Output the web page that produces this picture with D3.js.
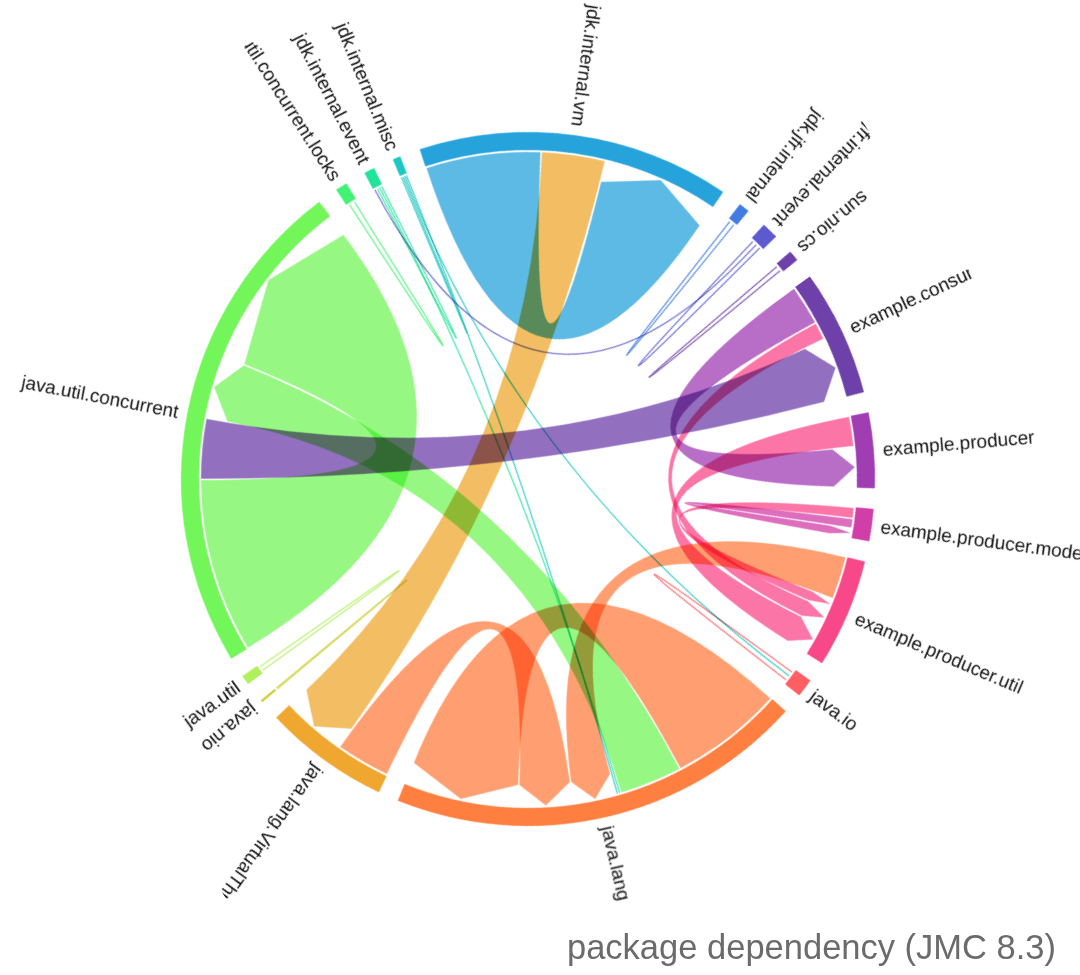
<!DOCTYPE html>
<html>
<head>
<meta charset="utf-8">
<script src="https://cdn.jsdelivr.net/npm/d3@7"></script>
<style>
  html, body { margin: 0; padding: 0; background: #ffffff; }
  svg { display: block; }
</style>
</head>
<body>
<svg id="chart" width="1080" height="975"></svg>
<script>
// ---- data ----
const names = [
  "example.consumer",
  "example.producer",
  "example.producer.model",
  "example.producer.util",
  "java.io",
  "java.lang",
  "java.lang.VirtualThread",
  "java.nio",
  "java.util",
  "java.util.concurrent",
  "java.util.concurrent.locks",
  "jdk.internal.event",
  "jdk.internal.misc",
  "jdk.internal.vm",
  "jdk.jfr.internal",
  "jdk.jfr.internal.event",
  "sun.nio.cs"
];

const linkSource = [
  "example.consumer", "example.consumer",
  "example.producer",
  "example.producer.model", "example.producer.model",
  "example.producer.util",
  "java.io", "java.io",
  "java.lang", "java.lang", "java.lang", "java.lang",
  "java.lang.VirtualThread",
  "java.nio",
  "java.util",
  "java.util.concurrent", "java.util.concurrent",
  "java.util.concurrent.locks",
  "jdk.internal.event", "jdk.internal.event",
  "jdk.internal.misc",
  "jdk.internal.vm", "jdk.internal.vm",
  "jdk.jfr.internal", "jdk.jfr.internal.event", "sun.nio.cs"
];
const linkTarget = [
  "example.producer", "example.producer.util",
  "example.producer.util",
  "example.producer.util", "example.producer.model",
  "java.lang",
  "java.io", "jdk.internal.misc",
  "java.lang", "java.util.concurrent", "jdk.internal.event", "jdk.internal.misc",
  "java.lang",
  "java.nio",
  "java.util",
  "java.util.concurrent", "example.consumer",
  "java.util.concurrent.locks",
  "jdk.jfr.internal.event", "jdk.internal.event",
  "jdk.internal.misc",
  "jdk.internal.vm", "java.lang.VirtualThread",
  "jdk.jfr.internal", "jdk.jfr.internal.event", "sun.nio.cs"
];
const linkValue = [
  7.2, 3.2,
  5.4,
  2.0, 1.7,
  7.7,
  1.4, 0.3,
  20.3, 11.2, 0.4, 0.4,
  9.7,
  0.2,
  0.8,
  31.1, 10.8,
  1.0,
  0.5, 0.45,
  0.3,
  20.5, 11.4,
  0.9, 1.15, 0.9
];

const titleText = "package dependency (JMC 8.3)";

// ---- layout ----
const cx = 528, cy = 479;
const innerRadius = 329, outerRadius = 347;
const rotationDeg = 54.3;
const thinValue = 1.6;

const n = names.length;
const index = new Map(names.map((d, i) => [d, i]));
const matrix = Array.from({length: n}, () => new Array(n).fill(0));
linkSource.forEach((s, i) => {
  matrix[index.get(s)][index.get(linkTarget[i])] += linkValue[i];
});

const chord = d3.chordDirected()
  .padAngle(3.42 * Math.PI / 180)
  .sortSubgroups(d3.descending)
  .sortChords(d3.descending);

const chords = chord(matrix);

const arc = d3.arc().innerRadius(innerRadius).outerRadius(outerRadius);
const ribbon = d3.ribbonArrow()
  .radius(innerRadius - 2)
  .padAngle(d => d.source.value < thinValue ? 0.05 : 1.5 / innerRadius)
  .headRadius(21);

const colors = d3.quantize(d3.interpolateRainbow, n);

const svg = d3.select("#chart");

svg.append("defs").append("clipPath")
  .attr("id", "frameClip")
  .append("rect")
  .attr("x", -517).attr("y", -480)
  .attr("width", 1034).attr("height", 970);

const root = svg.append("g")
  .attr("transform", `translate(${cx},${cy}) rotate(${rotationDeg})`);
const g = root.append("g").attr("clip-path", "url(#frameClip)");

const group = g.append("g")
  .selectAll("g")
  .data(chords.groups)
  .join("g");

group.append("path")
  .attr("fill", d => colors[d.index])
  .attr("d", arc);

group.append("text")
  .each(d => { d.angle = (d.startAngle + d.endAngle) / 2; })
  .attr("dy", "0.35em")
  .attr("transform", d => `rotate(${d.angle * 180 / Math.PI - 90}) translate(${outerRadius + 9}) ${d.angle > Math.PI ? "rotate(180)" : ""}`)
  .attr("text-anchor", d => d.angle > Math.PI ? "end" : "start")
  .style("font-family", "'Liberation Sans', Arial, Helvetica, sans-serif")
  .style("font-size", "19px")
  .attr("fill", "#111")
  .text(d => names[d.index]);

g.append("g")
  .attr("fill-opacity", 0.75)
  .selectAll("path")
  .data(chords)
  .join("path")
  .style("mix-blend-mode", "multiply")
  .attr("fill", d => colors[d.target.index])
  .attr("stroke", d => d.source.value < thinValue ? colors[d.target.index] : "none")
  .attr("stroke-width", 1.3)
  .attr("stroke-opacity", 0.8)
  .attr("d", ribbon);

svg.append("text")
  .attr("x", 567)
  .attr("y", 959)
  .style("font-family", "'Liberation Sans', Arial, Helvetica, sans-serif")
  .style("font-size", "34.5px")
  .attr("fill", "#6b6b6b")
  .text(titleText);
</script>
</body>
</html>
